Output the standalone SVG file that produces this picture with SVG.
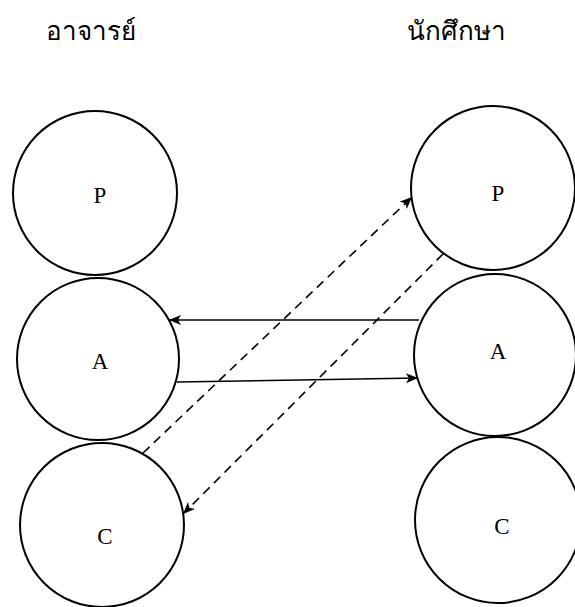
<svg xmlns="http://www.w3.org/2000/svg" width="575" height="607" viewBox="0 0 575 607">
<defs>
<style>
.node circle{fill:none;stroke:#000;stroke-width:2}
.lbl{font-family:"Liberation Serif",serif;font-size:23px;text-anchor:middle;fill:#000}
.title{font-family:"Noto Sans","DejaVu Sans",sans-serif;font-size:26px;fill:#000}
.solid{fill:none;stroke:#000;stroke-width:1.6}
.dash{fill:none;stroke:#000;stroke-width:1.6;stroke-dasharray:9 6}
</style>
<marker id="ah" viewBox="0 0 12 10" refX="12" refY="5" markerWidth="12" markerHeight="10" markerUnits="userSpaceOnUse" orient="auto">
<path d="M0,0 L12,5 L0,10 L3,5 Z" fill="#000"/>
</marker>
</defs>
<rect width="575" height="607" fill="#fff"/>
<text class="title" x="46" y="40">อาจารย์</text>
<text class="title" x="407" y="40">นักศึกษา</text>
<g id="tP" class="node"><circle cx="95" cy="193" r="82"/><text class="lbl" x="100" y="203">P</text></g>
<g id="tA" class="node"><circle cx="98" cy="359" r="81"/><text class="lbl" x="100" y="369">A</text></g>
<g id="tC" class="node"><circle cx="102" cy="525" r="82"/><text class="lbl" x="105" y="544">C</text></g>
<g id="sP" class="node"><circle cx="493" cy="188" r="82"/><text class="lbl" x="498" y="201">P</text></g>
<g id="sA" class="node"><circle cx="495" cy="355" r="81"/><text class="lbl" x="498" y="359">A</text></g>
<g id="sC" class="node"><circle cx="498" cy="520" r="83"/><text class="lbl" x="502" y="534">C</text></g>
<g id="connectors">
<line class="solid" x1="419" y1="320" x2="169" y2="320" marker-end="url(#ah)"/>
<line class="solid" x1="177" y1="382" x2="418" y2="378" marker-end="url(#ah)"/>
<line class="dash" x1="143" y1="453" x2="412" y2="197" marker-end="url(#ah)"/>
<line class="dash" x1="443" y1="254" x2="183" y2="514" marker-end="url(#ah)"/>
</g>
</svg>
